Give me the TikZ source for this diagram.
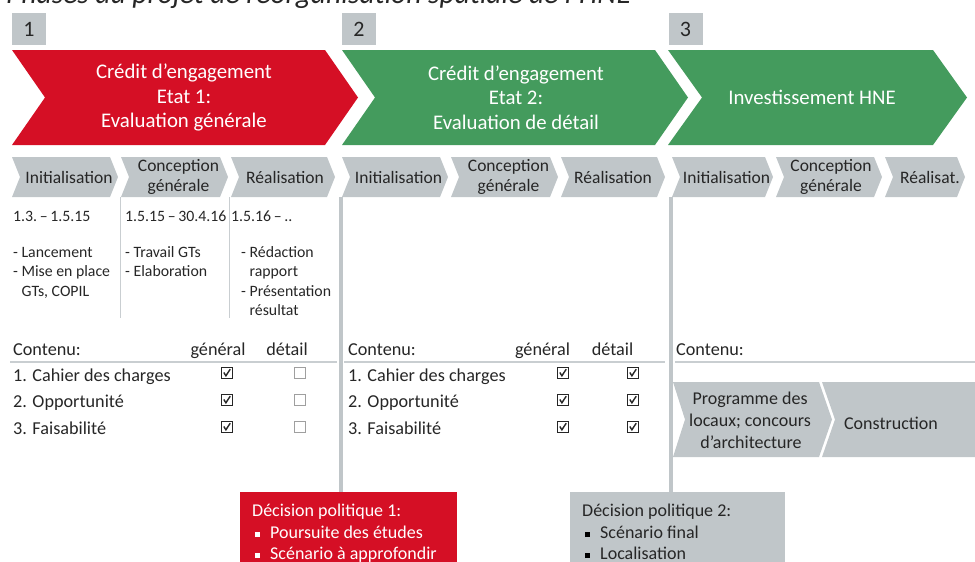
\documentclass[tikz,border=0pt]{standalone}
\usepackage{fontspec}
\setmainfont{Carlito}
\definecolor{hred}{HTML}{D50F25}
\definecolor{hgreen}{HTML}{449B5D}
\definecolor{hgray}{HTML}{C0C6C9}
\definecolor{htext}{HTML}{262626}
\definecolor{hline}{HTML}{C9CED1}
\newcommand{\sqb}[1]{\textcolor{#1}{\raisebox{1.5pt}{\rule{5pt}{5pt}}}\hspace{10pt}}
\newcommand{\mytext}[4]{\node[coltxt] (#1) at (#2,#3) {#4};}
\newcommand{\subchev}[2]{\fill[hgray] (#1,157) -- ({#2-8},157) -- (#2,177) -- ({#2-8},197) -- (#1,197) -- ({#1+8},177) -- cycle;}
\tikzset{
  numbox/.style={fill=hgray, minimum width=34pt, minimum height=32pt, inner sep=0, font=\fontsize{22}{24}\selectfont, text=htext},
  headtxt/.style={text=white, align=center, font=\fontsize{20.8}{24.5}\selectfont, inner sep=0},
  subtxt/.style={text=htext, align=center, font=\fontsize{17.5}{20}\selectfont, inner sep=0},
  coltxt/.style={text=htext, anchor=base west, font=\fontsize{15.8}{19}\selectfont, inner sep=0},
  tabtxt/.style={text=htext, anchor=base west, font=\fontsize{18.2}{20}\selectfont, inner sep=0},
  tabhead/.style={text=htext, anchor=base, font=\fontsize{18.2}{20}\selectfont, inner sep=0},
  boxtxt/.style={anchor=base, font=\fontsize{18}{20}\selectfont, inner sep=0, text=htext},
  dectxt/.style={anchor=base west, font=\fontsize{18}{20}\selectfont, inner sep=0},
  sepline/.style={hgray, line width=4pt},
  colline/.style={hline, line width=1pt},
  rowline/.style={hline, line width=1.5pt},
  decbox/.style={anchor=north west, minimum height=80pt, inner sep=0},
  chkbox/.pic={\draw[htext, line width=1pt] (-5.5,-5.5) rectangle (5.5,5.5);
               \draw[htext, line width=1.4pt] (-3.2,-0.5) -- (-1.1,2.8) -- (3.2,-3.8);},
  emptybox/.pic={\draw[gray!75, line width=0.8pt] (-5.5,-5.5) rectangle (5.5,5.5);}
}
\begin{document}
\begin{tikzpicture}[x=1pt,y=-1pt]
\useasboundingbox (0,0) rectangle (975,562);
\clip (0,0) rectangle (975,562);
% title (cut at top)
\node[anchor=base west, inner sep=0, text=htext, font=\fontsize{29.5}{31}\selectfont\itshape] (title) at (6,4) {Phases du projet de réorganisation spatiale de l’HNE};
% number boxes
\node[numbox] (n1) at (29,29) {1};
\node[numbox] (n2) at (359,29) {2};
\node[numbox] (n3) at (685.5,29) {3};
% big chevrons
\fill[hred] (12,50) -- (325,50) -- (358,97.5) -- (325,145) -- (12,145) -- (45,97.5) -- cycle;
\fill[hgreen] (342,50) -- (655,50) -- (688,97.5) -- (655,145) -- (342,145) -- (375,97.5) -- cycle;
\fill[hgreen] (668,50) -- (933,50) -- (967,97.5) -- (933,145) -- (668,145) -- (702,97.5) -- cycle;
\node[headtxt] (h1) at (184,97.5) {Crédit d’engagement\\Etat 1:\\Evaluation générale};
\node[headtxt] (h2) at (516,97.5) {Crédit d’engagement\\Etat 2:\\Evaluation de détail};
\node[headtxt] (h3) at (812,97) {Investissement HNE};
% sub chevrons
\subchev{12}{118} \subchev{121}{228} \subchev{231}{335}
\subchev{342}{448} \subchev{451}{558} \subchev{561}{665}
\subchev{672}{773} \subchev{776}{882} \subchev{885}{965}
\node[subtxt] (a1) at (69,177) {Initialisation};
\node[subtxt] (a2) at (178.5,177) {Conception\\générale};
\node[subtxt] (a3) at (285,177) {Réalisation};
\node[subtxt] (b1) at (398.5,177) {Initialisation};
\node[subtxt] (b2) at (508.5,177) {Conception\\générale};
\node[subtxt] (b3) at (613,177) {Réalisation};
\node[subtxt] (c1) at (726.5,177) {Initialisation};
\node[subtxt] (c2) at (831,177) {Conception\\générale};
\node[subtxt] (c3) at (930,177) {Réalisat.};
% phase 1 columns
\draw[colline] (120.5,197) -- (120.5,318);
\draw[colline] (229.5,197) -- (229.5,318);
\mytext{d1}{13}{221}{1.3.\,–\,1.5.15}
\mytext{d2}{125}{221}{1.5.15\,–\,30.4.16}
\mytext{d3}{231}{221}{1.5.16\,–\,..}
\mytext{e11}{13}{257}{- Lancement}
\mytext{e12}{13}{276.5}{- Mise en place}
\mytext{e13}{13}{296}{\phantom{- }GTs, COPIL}
\mytext{e21}{125}{257}{- Travail GTs}
\mytext{e22}{125}{276.5}{- Elaboration}
\mytext{e31}{241}{257}{- Rédaction}
\mytext{e32}{241}{276.5}{\phantom{- }rapport}
\mytext{e33}{241}{296}{- Présentation}
\mytext{e34}{241}{315}{\phantom{- }résultat}
% table phase 1
\node[tabtxt] (t1h) at (13,355) {Contenu:};
\node[tabhead] (t1g) at (218,355) {général};
\node[tabhead] (t1d) at (287,355) {détail};
\draw[rowline] (10,362) -- (337,362);
\node[tabtxt] (t1r1) at (13,381) {1. Cahier des charges};
\node[tabtxt] (t1r2) at (13,407.5) {2. Opportunité};
\node[tabtxt] (t1r3) at (13,434) {3. Faisabilité};
\pic at (227,373) {chkbox}; \pic at (300,373) {emptybox};
\pic at (227,400) {chkbox}; \pic at (300,400) {emptybox};
\pic at (227,427) {chkbox}; \pic at (300,427) {emptybox};
% table phase 2
\node[tabtxt] (t2h) at (348,355) {Contenu:};
\node[tabhead] (t2g) at (542.5,355) {général};
\node[tabhead] (t2d) at (612.5,355) {détail};
\draw[rowline] (344,362) -- (665,362);
\node[tabtxt] (t2r1) at (348,381) {1. Cahier des charges};
\node[tabtxt] (t2r2) at (348,407.5) {2. Opportunité};
\node[tabtxt] (t2r3) at (348,434) {3. Faisabilité};
\pic at (563,373) {chkbox}; \pic at (633,373) {chkbox};
\pic at (563,400) {chkbox}; \pic at (633,400) {chkbox};
\pic at (563,427) {chkbox}; \pic at (633,427) {chkbox};
% table phase 3
\node[tabtxt] (t3h) at (676,355) {Contenu:};
\draw[rowline] (675,362) -- (975,362);
\fill[hgray] (673,382) -- (819,382) -- (832,419.5) -- (819,457) -- (673,457) -- (685,419.5) -- cycle;
\fill[hgray] (822,382) -- (975,382) -- (988,419.5) -- (975,457) -- (822,457) -- (835,419.5) -- cycle;
\node[boxtxt] (p1) at (750,404) {Programme des};
\node[boxtxt] (p2) at (750,426) {locaux; concours};
\node[boxtxt] (p3) at (751,448) {d’architecture};
\node[boxtxt] (p4) at (891,429) {Construction};
% decision boxes
\node[decbox, fill=hred, minimum width=217pt] (dec1) at (240,492) {};
\node[decbox, fill=hgray, minimum width=215pt] (dec2) at (570,492) {};
\node[dectxt, text=white] (k1) at (252,516.5) {Décision politique 1:};
\node[dectxt, text=white] (k2) at (255,538.5) {\sqb{white}Poursuite des études};
\node[dectxt, text=white] (k3) at (255,559.5) {\sqb{white}Scénario à approfondir};
\node[dectxt, text=htext] (m1) at (582,516.5) {Décision politique 2:};
\node[dectxt, text=htext] (m2) at (585,538.5) {\sqb{black}Scénario final};
\node[dectxt, text=htext] (m3) at (585,559.5) {\sqb{black}Localisation};
% separators
\coordinate (s1) at (341,197);
\coordinate (s2) at (671,197);
\draw[sepline] (s1) -- (s1 |- dec1.north);
\draw[sepline] (s2) -- (s2 |- dec2.north);
\end{tikzpicture}
\end{document}
